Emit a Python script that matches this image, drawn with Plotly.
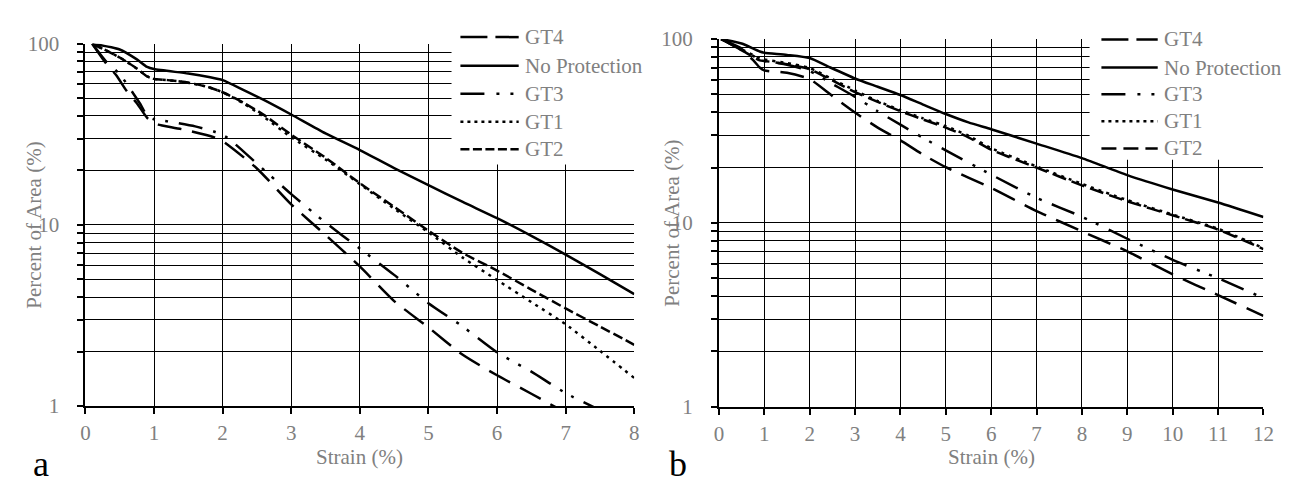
import plotly.graph_objects as go

# ---------------- data (panel a) ----------------
a_np_x = [0.1, 0.5, 0.75, 0.9, 1.0, 1.5, 1.8, 2.0, 2.3, 2.6, 3.0, 3.5, 4.0, 4.5, 5.0, 5.5, 6.0, 6.5, 7.0, 7.5, 8.0]
a_np_y = [100, 93, 82, 74.5, 72.5, 68.5, 65.5, 63, 55.7, 49, 40.7, 32, 25.9, 20.6, 16.6, 13.4, 10.9, 8.7, 6.86, 5.35, 4.15]

a_gt2_x = [0.1, 0.25, 0.5, 0.75, 0.9, 1.0, 1.2, 1.5, 1.8, 2.0, 2.3, 2.6, 3.0, 3.5, 4.0, 4.5, 5.0, 5.5, 6.0, 6.5, 7.0, 7.5, 8.0]
a_gt2_y = [100, 94, 84, 73, 66, 64, 63, 61, 57.5, 54, 47.4, 40.5, 31.5, 23.5, 17, 12.6, 9.3, 7.0, 5.6, 4.4, 3.46, 2.75, 2.18]

a_gt1_x = [0.1, 0.25, 0.5, 0.75, 0.9, 1.0, 1.2, 1.5, 1.8, 2.0, 2.3, 2.6, 3.0, 3.5, 4.0, 4.5, 5.0, 5.5, 6.0, 6.5, 7.0, 7.5, 8.0]
a_gt1_y = [100, 94, 84, 73, 66, 64, 63, 61, 57.5, 54, 47, 39.5, 30.5, 23, 16.8, 12.3, 9.1, 6.6, 4.97, 3.75, 2.83, 2.02, 1.43]

a_gt3_x = [0.1, 0.3, 0.5, 0.7, 0.8, 0.9, 1.0, 1.2, 1.6, 1.87, 2.06, 2.5, 3.0, 3.5, 4.0, 4.5, 5.0, 5.5, 6.0, 6.5, 7.0, 7.5]
a_gt3_y = [100, 80, 68, 53, 46.5, 40, 38.3, 37.3, 35, 32.8, 30.5, 21.8, 14.8, 10.3, 7.4, 5.3, 3.7, 2.75, 1.98, 1.55, 1.18, 0.95]

a_gt4_x = [0.1, 0.3, 0.45, 0.6, 0.75, 0.9, 1.0, 1.06, 1.43, 1.87, 2.0, 2.5, 3.0, 3.5, 4.0, 4.5, 5.0, 5.5, 6.0, 6.5, 7.0]
a_gt4_y = [100, 78, 67, 55, 47, 39, 36.5, 35.8, 33.6, 30.5, 29, 20.5, 13, 8.8, 5.9, 3.8, 2.72, 1.92, 1.48, 1.17, 0.92]

# ---------------- data (panel b) ----------------
b_np_x = [0.05, 0.5, 0.9, 1.0, 1.5, 2.0, 2.4, 3.0, 3.5, 4.0, 4.5, 5.0, 5.5, 6.0, 7.0, 8.0, 9.0, 10, 11, 12]
b_np_y = [100, 94.5, 85.5, 84.3, 82, 78.8, 71, 61, 55, 49.6, 44, 39.1, 35.2, 32.3, 27, 22.5, 18.2, 15.2, 12.9, 10.76]

b_gt1_x = [0.05, 0.5, 0.9, 1.0, 1.5, 2.0, 2.5, 3.0, 3.5, 4.0, 4.5, 5.0, 5.5, 6.0, 7.0, 8.0, 9.0, 10, 11, 12]
b_gt1_y = [100, 88, 78.5, 77.5, 74, 69.5, 60.5, 52.5, 46, 41, 37, 33.6, 29.8, 25.5, 20.3, 16.3, 13.3, 11.1, 9.3, 7.3]

b_gt2_x = [0.05, 0.5, 0.9, 1.0, 1.5, 2.0, 2.5, 3.0, 3.5, 4.0, 4.5, 5.0, 5.5, 6.0, 7.0, 8.0, 9.0, 10, 11, 12]
b_gt2_y = [100, 87, 76.5, 76, 73, 68.5, 59.5, 51.5, 45.5, 40.5, 36.5, 33, 29.2, 25, 20, 16, 13.1, 11, 9.2, 7.2]

b_gt3_x = [0.05, 0.5, 0.9, 1.0, 1.5, 2.0, 2.5, 3.0, 3.5, 4.0, 4.5, 5.0, 6.0, 7.0, 8.0, 9.0, 10, 11, 12]
b_gt3_y = [100, 89, 77, 76, 72.5, 67, 57, 48.5, 40.5, 34.2, 29, 24.8, 18.3, 13.7, 10.8, 8.2, 6.3, 5.0, 3.9]

b_gt4_x = [0.05, 0.5, 0.75, 0.9, 1.0, 1.5, 2.0, 2.5, 3.0, 3.5, 4.0, 4.5, 5.0, 6.0, 7.0, 8.0, 9.0, 10, 11, 12]
b_gt4_y = [100, 87, 77, 70, 67.5, 65.5, 60.5, 49, 39.8, 33, 28.1, 23.5, 20.1, 15.5, 11.6, 9.0, 7.0, 5.25, 4.05, 3.12]

legend_names = ["GT4", "No Protection", "GT3", "GT1", "GT2"]
y_tickvals = [1, 2, 3, 4, 5, 6, 7, 8, 9, 10, 20, 30, 40, 50, 60, 70, 80, 90, 100]
y_ticktext = ["1", "", "", "", "", "", "", "", "", "10", "", "", "", "", "", "", "", "", "100"]

# ---------------- styling ----------------
W, H = 1298, 490
FONT = "Liberation Serif"
GRAY = "#808080"
LW = 2.5

style_a = {
    "GT4": "24px,11px",
    "No Protection": "solid",
    "GT3": "24px,11px,3px,10px,3px,11px",
    "GT1": "3px,5px",
    "GT2": "10px,4px",
}
style_b = {
    "GT4": "24px,11px",
    "No Protection": "solid",
    "GT3": "24px,11px,3px,10px,3px,11px",
    "GT1": "3px,5px",
    "GT2": "14px,6px",
}
legend_dash_a = {
    "GT4": "27px,8px",
    "No Protection": "solid",
    "GT3": "24px,12px,3px,11px,3px,11px",
    "GT1": "3px,4px",
    "GT2": "9px,3.5px",
}
legend_dash_b = {
    "GT4": "27px,8px",
    "No Protection": "solid",
    "GT3": "24px,12px,3px,11px,3px,11px",
    "GT1": "3px,4px",
    "GT2": "15px,7px",
}

series_a = {
    "GT4": (a_gt4_x, a_gt4_y),
    "No Protection": (a_np_x, a_np_y),
    "GT3": (a_gt3_x, a_gt3_y),
    "GT1": (a_gt1_x, a_gt1_y),
    "GT2": (a_gt2_x, a_gt2_y),
}
series_b = {
    "GT4": (b_gt4_x, b_gt4_y),
    "No Protection": (b_np_x, b_np_y),
    "GT3": (b_gt3_x, b_gt3_y),
    "GT1": (b_gt1_x, b_gt1_y),
    "GT2": (b_gt2_x, b_gt2_y),
}

fig = go.Figure()

for name in legend_names:
    x, y = series_a[name]
    fig.add_trace(go.Scatter(x=x, y=y, mode="lines", name=name, showlegend=False,
                             line=dict(color="black", width=LW, dash=style_a[name],
                                       shape="spline", smoothing=0.6),
                             xaxis="x", yaxis="y"))
for name in legend_names:
    x, y = series_b[name]
    fig.add_trace(go.Scatter(x=x, y=y, mode="lines", name=name, showlegend=False,
                             line=dict(color="black", width=LW, dash=style_b[name],
                                       shape="spline", smoothing=0.6),
                             xaxis="x2", yaxis="y2"))

# panel geometry (pixels)
a_left, a_right, a_top, a_bot = 73.3, 629.0, 25.0, 406.0
b_left, b_right, b_top, b_bot = 714.7, 1266.0, 20.0, 406.7


def px2x(p):
    return p / W


def px2y(p):
    return 1 - p / H


common_x = dict(showline=True, linecolor="black", linewidth=2, mirror=False,
                showgrid=True, gridcolor="black", gridwidth=1, zeroline=False,
                ticks="outside", ticklen=6, tickwidth=1.5, tickcolor="black",
                tickfont=dict(family=FONT, size=21, color=GRAY), dtick=1, tick0=0,
                ticklabelstandoff=1)
common_y = dict(type="log", range=[0, 2], showline=True, linecolor="black", linewidth=2,
                showgrid=True, gridcolor="black", gridwidth=1, zeroline=False,
                ticks="outside", ticklen=6, tickwidth=1.5, tickcolor="black",
                tickmode="array", tickvals=y_tickvals, ticktext=y_ticktext,
                tickfont=dict(family=FONT, size=21, color=GRAY), ticklabelstandoff=14)

fig.update_layout(
    width=W, height=H, autosize=False,
    margin=dict(l=0, r=0, t=0, b=0),
    paper_bgcolor="white", plot_bgcolor="white",
    showlegend=False,
    font=dict(family=FONT),
    xaxis=dict(domain=[px2x(a_left), px2x(a_right)], range=[0, 8], anchor="y", **common_x),
    yaxis=dict(domain=[px2y(a_bot), px2y(a_top)], anchor="x", **common_y),
    xaxis2=dict(domain=[px2x(b_left), px2x(b_right)], range=[0, 12], anchor="y2", **common_x),
    yaxis2=dict(domain=[px2y(b_bot), px2y(b_top)], anchor="x2", **common_y),
)

shapes = []
annotations = []

# legend boxes (white background covering grid)
legend_specs = [
    dict(box=(444, 0, 640, 152), sym=(453, 512), text_x=516, rows=[18, 48, 77.5, 107, 136], dash=legend_dash_a),
    dict(box=(1090, 0, 1298, 147), sym=(1102, 1159), text_x=1163, rows=[20.5, 50, 78, 106.5, 135], dash=legend_dash_b),
]
for spec in legend_specs:
    x0, y0, x1, y1 = spec["box"]
    shapes.append(dict(type="rect", xref="paper", yref="paper", layer="above",
                       x0=px2x(x0), x1=px2x(x1), y0=px2y(y1), y1=px2y(y0),
                       fillcolor="white", line=dict(width=0)))
    for name, ry in zip(legend_names, spec["rows"]):
        shapes.append(dict(type="line", xref="paper", yref="paper", layer="above",
                           x0=px2x(spec["sym"][0]), x1=px2x(spec["sym"][1]),
                           y0=px2y(ry), y1=px2y(ry),
                           line=dict(color="black", width=LW, dash=spec["dash"][name])))
        annotations.append(dict(text=name, xref="paper", yref="paper", showarrow=False,
                                x=px2x(spec["text_x"]), y=px2y(ry), xanchor="left", yanchor="middle",
                                font=dict(family=FONT, size=21, color=GRAY)))

# axis titles
for cx in (21, 667):
    cy = 215.5 if cx == 21 else 213.4
    annotations.append(dict(text="Percent of Area (%)", xref="paper", yref="paper", showarrow=False,
                            x=px2x(cx), y=px2y(cy), xanchor="center", yanchor="middle", textangle=-90,
                            font=dict(family=FONT, size=21, color=GRAY)))
for cx in ((a_left + a_right) / 2, (b_left + b_right) / 2):
    annotations.append(dict(text="Strain (%)", xref="paper", yref="paper", showarrow=False,
                            x=px2x(cx), y=px2y(459), xanchor="center", yanchor="middle",
                            font=dict(family=FONT, size=21, color=GRAY)))

# panel letters
annotations.append(dict(text="a", xref="paper", yref="paper", showarrow=False,
                        x=px2x(28), y=px2y(467), xanchor="center", yanchor="middle",
                        font=dict(family=FONT, size=36, color="black")))
annotations.append(dict(text="b", xref="paper", yref="paper", showarrow=False,
                        x=px2x(673), y=px2y(467), xanchor="center", yanchor="middle",
                        font=dict(family=FONT, size=36, color="black")))

fig.update_layout(shapes=shapes, annotations=annotations)

fig.write_html("out.html")
